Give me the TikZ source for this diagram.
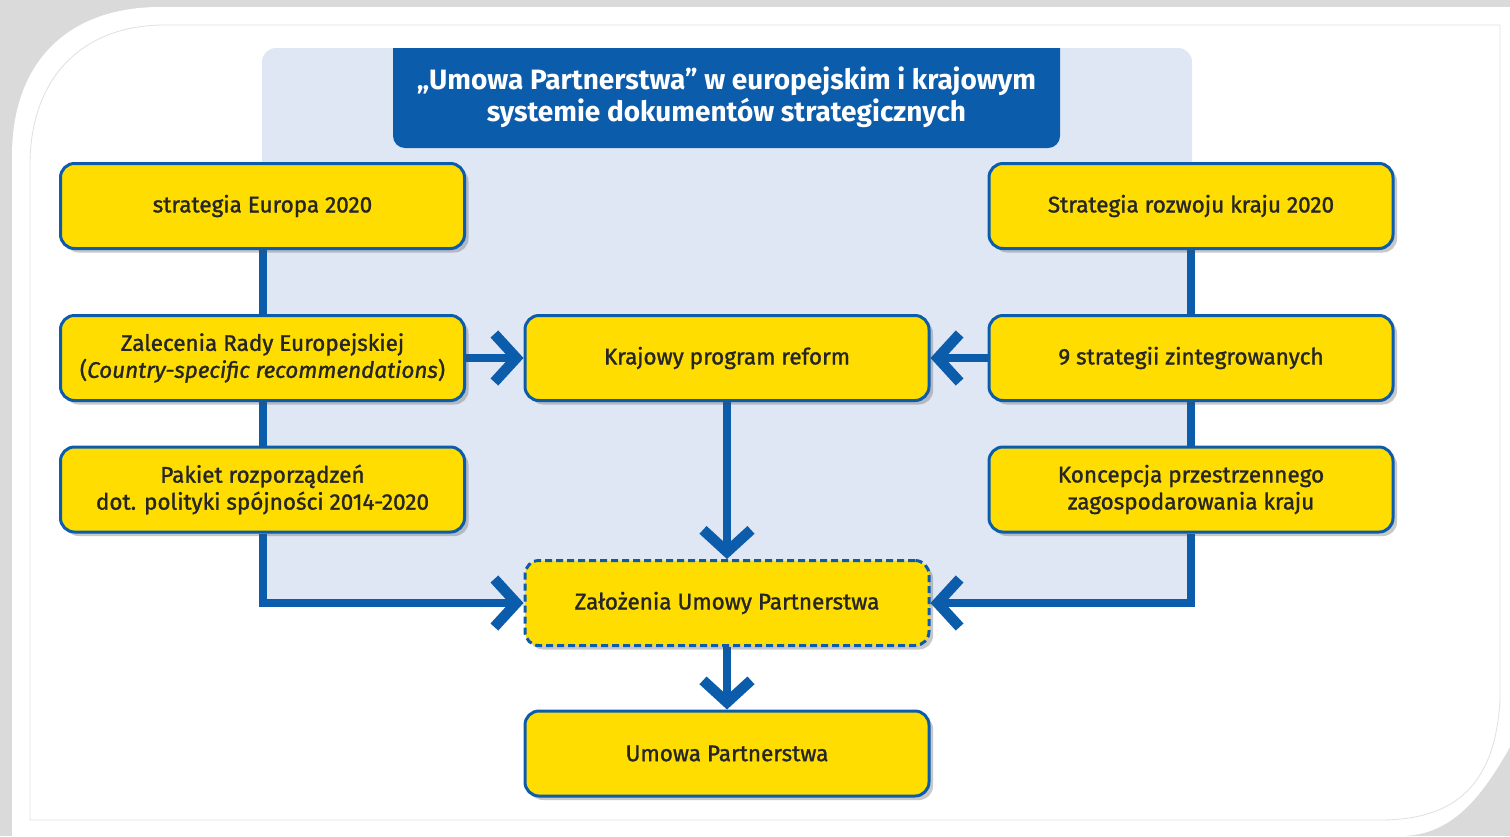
\documentclass[tikz,border=0pt]{standalone}
\usepackage{fontspec}
\setmainfont{Fira Sans}
\newfontfamily\boxfont{Fira Sans}[FakeBold=1.3]
\usetikzlibrary{arrows.meta,shadows}
\definecolor{ublue}{RGB}{12,92,172}
\definecolor{uyellow}{RGB}{255,221,0}
\definecolor{panel}{RGB}{224,231,244}
\definecolor{frame}{RGB}{218,218,218}
\pgfdeclarelayer{frm}
\pgfdeclarelayer{back}
\pgfdeclarelayer{lines}
\pgfsetlayers{frm,back,lines,main}
\tikzset{
  box/.style={draw=ublue, line width=3pt, fill=uyellow, rounded corners=14pt,
    minimum width=404pt, minimum height=85pt, align=center, inner sep=0pt,
    text=black!85, font=\boxfont\fontsize{22.5}{27}\selectfont,
    drop shadow={shadow xshift=4pt, shadow yshift=-4pt, opacity=0.3, fill=black!70}},
  dbox/.style={box, dash pattern=on 7pt off 4pt},
  conn/.style={draw=ublue, line width=8pt},
  arr/.style={conn, -{Straight Barb[length=22pt, width=48pt, line width=2.5pt 1, line join=miter]}},
}
\begin{document}
\begin{tikzpicture}[x=1pt,y=-1pt]
\useasboundingbox (0,0) rectangle (1510,836);
% frame
\begin{pgfonlayer}{frm}
\fill[frame] (0,0) rectangle (1510,836);
\fill[white] (12,836) -- (12,156) .. controls (12,60) and (70,7) .. (160,7) -- (1510,7) -- (1510,747) .. controls (1480,800) and (1450,836) .. (1400,836) -- cycle;
\draw[black!12, line width=0.8pt] (30,820) -- (30,165) .. controls (30,80) and (80,25) .. (165,25) -- (1500,25) -- (1500,700) .. controls (1495,790) and (1450,820) .. (1380,820) -- cycle;
\end{pgfonlayer}
% panel
\begin{pgfonlayer}{back}
\fill[panel, rounded corners=14pt] (262,48) rectangle (1192,606);
\end{pgfonlayer}
% title
\fill[ublue] (393,48) -- (393,136) arc[start angle=180, end angle=90, radius=12] -- (1048,148) arc[start angle=90, end angle=0, radius=12] -- (1060,48) -- cycle;
\node[text=white, font=\bfseries\fontsize{28}{32}\selectfont, align=center] (title) at (726.5,97) {„Umowa Partnerstwa” w europejskim i krajowym\\systemie dokumentów strategicznych};
% nodes
\node[box] (e1) at (262.5,206) {strategia Europa 2020};
\node[box] (e2) at (262.5,358) {Zalecenia Rady Europejskiej\\(\textit{Country-specific recommendations})};
\node[box] (e3) at (262.5,489.5) {Pakiet rozporządzeń\\dot. polityki spójności 2014-2020};
\node[box] (k) at (727,358) {Krajowy program reform};
\node[dbox] (z) at (727,603) {Założenia Umowy Partnerstwa};
\node[box] (u) at (727,753.5) {Umowa Partnerstwa};
\node[box] (r1) at (1191,206) {Strategia rozwoju kraju 2020};
\node[box] (r2) at (1191,358) {9 strategii zintegrowanych};
\node[box] (r3) at (1191,489.5) {Koncepcja przestrzennego\\zagospodarowania kraju};
% connectors
\begin{pgfonlayer}{lines}
\draw[conn] (e1.south) -- (e3.north);
\draw[arr] (e3.south) -- (e3.south |- z.west) -- (z.west);
\draw[conn] (r1.south) -- (r3.north);
\draw[arr] (r3.south) -- (r3.south |- z.east) -- (z.east);
\draw[arr] (e2.east) -- (k.west);
\draw[arr] (r2.west) -- (k.east);
\draw[arr] (k.south) -- (z.north);
\draw[arr] (z.south) -- (u.north);
\end{pgfonlayer}
\end{tikzpicture}
\end{document}
